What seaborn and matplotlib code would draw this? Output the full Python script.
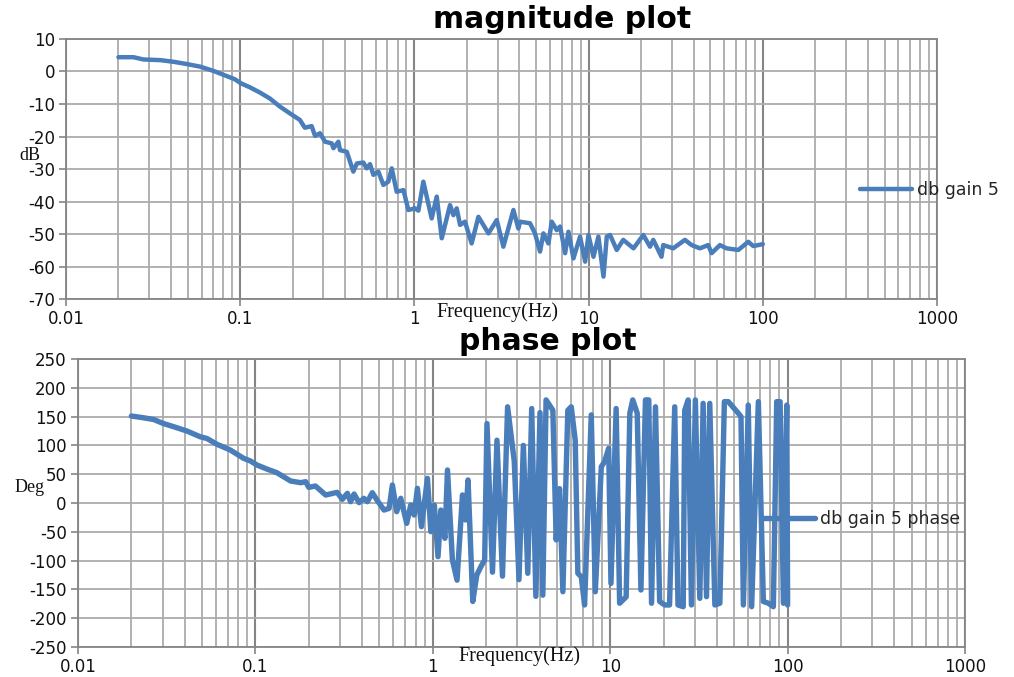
import numpy as np
import pandas as pd
import matplotlib
matplotlib.use("Agg")
import matplotlib.pyplot as plt
import seaborn as sns
from matplotlib.ticker import FixedLocator, LogLocator, NullFormatter, FixedFormatter

# ---------------- data ----------------
mag_freq = [0.020, 0.0244, 0.0278, 0.0347, 0.0413, 0.0493, 0.0588, 0.0701, 0.0836, 0.0933,
            0.1006, 0.114, 0.130, 0.148, 0.169, 0.193, 0.220, 0.235, 0.257, 0.269,
            0.287, 0.307, 0.335, 0.343, 0.366, 0.374, 0.409, 0.446, 0.467, 0.509,
            0.532, 0.556, 0.581, 0.621, 0.663, 0.708, 0.741, 0.791, 0.865, 0.923,
            1.007, 1.054, 1.125, 1.256, 1.343, 1.435, 1.601, 1.674, 1.749, 1.828,
            1.951, 2.13, 2.33, 2.66, 2.97, 3.24, 3.70, 3.95, 4.04, 4.61,
            4.92, 5.26, 5.50, 5.88, 6.14, 6.56, 6.86, 7.33, 7.66, 8.18,
            8.93, 9.55, 9.98, 10.66, 11.38, 12.17, 12.71, 13.28, 14.5, 15.8,
            18.1, 20.6, 22.5, 23.5, 26.2, 26.8, 30.6, 35.7, 39.0, 43.5,
            48.6, 50.8, 56.7, 61.9, 72.3, 82.5, 88.1, 94.2, 100.0]
mag_db = [4.4, 4.4, 3.7, 3.5, 3.0, 2.3, 1.5, 0.2, -1.4, -2.4,
          -3.6, -4.9, -6.5, -8.3, -10.8, -12.9, -14.9, -17.3, -16.8, -19.8,
          -19.0, -21.6, -22.1, -23.6, -21.6, -24.2, -24.7, -30.8, -28.3, -28.0,
          -29.8, -28.5, -31.8, -30.8, -34.9, -33.9, -29.8, -37.0, -36.5, -42.6,
          -42.1, -42.8, -33.9, -45.2, -38.5, -51.3, -41.1, -44.2, -42.1, -47.2,
          -46.2, -52.9, -44.7, -49.8, -45.7, -53.9, -42.6, -48.3, -46.2, -46.7,
          -49.8, -55.4, -49.8, -52.9, -46.2, -48.8, -47.7, -55.9, -49.3, -57.5,
          -50.8, -58.5, -50.3, -57.0, -50.8, -63.1, -50.8, -50.3, -54.9, -51.8,
          -54.4, -50.3, -53.9, -51.8, -57.0, -53.4, -54.4, -51.8, -53.4, -54.4,
          -53.4, -55.9, -53.4, -54.4, -54.9, -52.4, -53.7, -53.4, -53.1]

phase_freq = [0.020, 0.0234, 0.0267, 0.0303, 0.0346, 0.0411, 0.0489, 0.0533, 0.0607, 0.0722,
              0.0859, 0.0937, 0.102, 0.116, 0.132, 0.144, 0.158, 0.180, 0.192, 0.200,
              0.218, 0.249, 0.289, 0.309, 0.330, 0.344, 0.360, 0.384, 0.409, 0.428,
              0.456, 0.487, 0.531, 0.567, 0.592, 0.626, 0.660, 0.713, 0.751, 0.785,
              0.819, 0.863, 0.933, 0.975, 1.02, 1.07, 1.11, 1.17, 1.21, 1.29,
              1.37, 1.47, 1.53, 1.58, 1.68, 1.77, 1.87, 1.96, 2.02, 2.17,
              2.30, 2.47, 2.64, 2.88, 3.06, 3.24, 3.43, 3.61, 3.81, 4.02,
              4.17, 4.35, 4.75, 4.96, 5.18, 5.41, 5.77, 6.03, 6.35, 6.57,
              6.87, 7.17, 7.82, 8.24, 8.91, 9.3, 9.8, 10.1, 10.8, 11.3,
              12.3, 12.9, 13.4, 14.2, 14.9, 15.8, 16.5, 17.1, 18.0, 19.0,
              20.3, 21.6, 23.1, 24.1, 25.8, 26.3, 27.5, 28.7, 30.2, 32.0,
              33.4, 34.9, 36.4, 38.9, 41.5, 44.0, 46.3, 52.7, 54.6, 56.3,
              60.0, 62.7, 68.4, 73.0, 77.9, 83.1, 86.8, 90.7, 94.7, 98.9,
              100.0]
phase_deg = [151, 148, 145, 138, 132.5, 125, 115, 112, 102, 92,
             77.5, 73, 66, 59, 52.7, 45.7, 38.2, 35.3, 37, 27.2,
             29.5, 13.9, 18.5, 6.4, 16.8, 2.3, 15.6, 0.6, 8.1, 2.3,
             17.9, 4.1, -12.2, -9.3, 31.3, -15, 8.1, -35.3, -3.5, -20.8,
             25.5, -41.1, 42.8, -49.8, -3.5, -93.2, -12.2, -61.3, 57.3, -99,
             -134, 14, -29.5, 40, -171, -125, -110, -99, 138, -120,
             109, -127, 167, 72, -133, 100, -122, 164, -162, 157,
             -160, 179, 161, -64, 25, -154, 161, 167, 109, -122,
             -128, -177, 153, -154, 63, 72, 95, -139.5, 164, -174,
             -163, 156, 179, 156, -151, 179, 179, -174, 167, -171,
             -177, -177, 167, -177, -180, 161, 179, -177, 179, -165.5,
             173, -162.6, 173, -177, -174, 176, 176, 156, 150, -177,
             170, -180, 176, -171, -174, -180, 176, 176, -174, 170,
             -177]

x_ticks = [0.01, 0.1, 1, 10, 100, 1000]
x_tick_labels = ["0.01", "0.1", "1", "10", "100", "1000"]
mag_yticks = list(range(-70, 11, 10))
phase_yticks = list(range(-250, 251, 50))

mag_df = pd.DataFrame({"Frequency": mag_freq, "dB": mag_db})
phase_df = pd.DataFrame({"Frequency": phase_freq, "Deg": phase_deg})

# ---------------- style ----------------
sns.set_theme(style="white")
plt.rcParams['font.family'] = ['DejaVu Sans']
plt.rcParams['axes.unicode_minus'] = False

LINE = "#4A7EBB"
GRID = "#ABABAB"
GRID_MAJ = "#858585"

fig = plt.figure(figsize=(10.14, 6.77), dpi=100)
ax1 = fig.add_axes([0.0651, 0.5583, 0.8590, 0.3841])
ax2 = fig.add_axes([0.0769, 0.0443, 0.8748, 0.4254])

sns.lineplot(data=mag_df, x="Frequency", y="dB", ax=ax1, color=LINE, linewidth=3.2,
             sort=False, estimator=None, label="db gain 5")
sns.lineplot(data=phase_df, x="Frequency", y="Deg", ax=ax2, color=LINE, linewidth=3.9,
             sort=False, estimator=None, label="db gain 5 phase")

for ax, yt in ((ax1, mag_yticks), (ax2, phase_yticks)):
    ax.set_xscale("log")
    ax.set_xlim(x_ticks[0], x_ticks[-1])
    ax.set_ylim(yt[0], yt[-1])
    ax.xaxis.set_major_locator(FixedLocator(x_ticks))
    ax.xaxis.set_major_formatter(FixedFormatter(x_tick_labels))
    ax.xaxis.set_minor_locator(LogLocator(base=10, subs=np.arange(2, 10), numticks=20))
    ax.xaxis.set_minor_formatter(NullFormatter())
    ax.set_yticks(yt)
    ax.set_yticklabels([str(v) for v in yt])
    ax.grid(False)
    ax.xaxis.grid(True, which="minor", color=GRID, lw=1.3)
    ax.xaxis.grid(True, which="major", color=GRID_MAJ, lw=1.5)
    ax.yaxis.grid(True, which="major", color=GRID, lw=1.3)
    ax.set_axisbelow(True)
    for s in ax.spines.values():
        s.set_color(GRID_MAJ)
        s.set_linewidth(1.3)
    ax.tick_params(axis="both", which="major", direction="out", length=5, width=1.2,
                   color=GRID_MAJ, labelsize=12, labelcolor="#111111", pad=3,
                   bottom=True, left=True)
    ax.tick_params(axis="x", which="minor", length=0)
    ax.set_xlabel("")
    ax.set_ylabel("")

ax1.legend(loc="center left", bbox_to_anchor=(0.9116, 0.419), frameon=False,
           handlelength=3.0, borderpad=0, borderaxespad=0, handletextpad=0.3,
           fontsize=12.5)
ax2.legend(loc="center left", bbox_to_anchor=(0.772, 0.444), frameon=False,
           handlelength=3.0, borderpad=0, borderaxespad=0, handletextpad=0.3,
           fontsize=12.5)

# titles & labels
fig.text(562 / 1014, 1 - 20 / 677, "magnitude plot", ha="center", va="center",
         fontsize=21.5, fontweight="bold", color="black")
fig.text(548 / 1014, 1 - 341 / 677, "phase plot", ha="center", va="center",
         fontsize=21.5, fontweight="bold", color="black")
serif = ["Liberation Serif", "DejaVu Serif"]
fig.text(497 / 1014, 1 - 312 / 677, "Frequency(Hz)", ha="center", va="center",
         fontsize=14.5, family=serif, color="#111111")
fig.text(519 / 1014, 1 - 656 / 677, "Frequency(Hz)", ha="center", va="center",
         fontsize=14.5, family=serif, color="#111111")
fig.text(30 / 1014, 1 - 155 / 677, "dB", ha="center", va="center",
         fontsize=13, family=serif, color="#111111")
fig.text(30 / 1014, 1 - 488 / 677, "Deg", ha="center", va="center",
         fontsize=13, family=serif, color="#111111")

fig.savefig("out.png", dpi=100, facecolor="white")
